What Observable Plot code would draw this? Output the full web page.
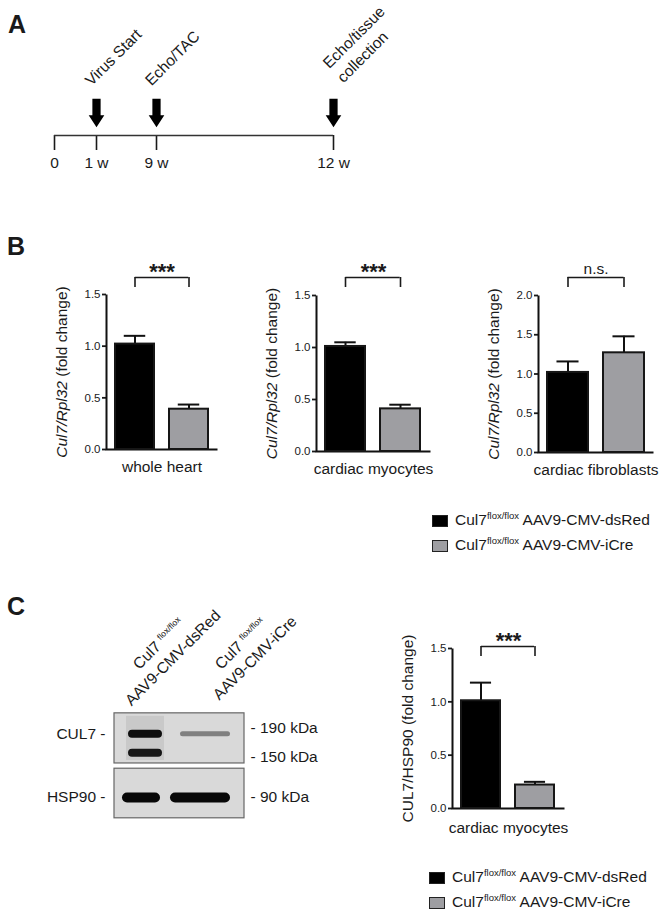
<!DOCTYPE html>
<html><head><meta charset="utf-8">
<script src="https://cdn.jsdelivr.net/npm/d3@7"></script>
<script src="https://cdn.jsdelivr.net/npm/@observablehq/plot@0.6"></script>
<style>
body{margin:0;background:#fff;}
#fig{position:relative;width:666px;height:912px;background:#fff;font-family:"Liberation Sans",Arial,Helvetica,sans-serif;color:#1a1a1a;overflow:hidden}
.letter{position:absolute;font-weight:bold;font-size:25px;line-height:1}
.legend{position:absolute;font-size:15.5px;line-height:25px;white-space:nowrap}
.legend .row{display:flex;align-items:center;height:25px}
.legend .sw{width:14px;height:10px;margin-right:7px;border:1px solid #222}
.legend sup{font-size:9.5px;vertical-align:0;position:relative;top:-6px}
</style></head><body><div id="fig"></div>
<script>
// ---------------- data ----------------
const groupKeys = ["dsRed", "iCre"];
const groupGene = "Cul7";
const groupAllele = "flox/flox";
const groupVectors = ["AAV9-CMV-dsRed", "AAV9-CMV-iCre"];
const groupColors = ["#000000", "#9e9ea2"];

const timelineWeeks = [0, 1, 9, 12];
const timelineLabels = ["0", "1 w", "9 w", "12 w"];
const timelineEvents = [
  {week: 1, label: "Virus Start"},
  {week: 9, label: "Echo/TAC"},
  {week: 12, label: "Echo/tissue\ncollection"}
];

const wholeHeartMean = [1.02, 0.39];
const wholeHeartSem = [0.08, 0.045];
const myocyteMean = [1.01, 0.41];
const myocyteSem = [0.04, 0.04];
const fibroblastMean = [1.02, 1.27];
const fibroblastSem = [0.14, 0.21];
const westernMean = [1.01, 0.22];
const westernSem = [0.17, 0.03];

const ticks15 = [0, 0.5, 1.0, 1.5];
const ticks20 = [0, 0.5, 1.0, 1.5, 2.0];

const blotLanes = ["dsRed", "iCre"];
const blotMarkers = [190, 150, 90];
const blotStrips = [
  {protein: "CUL7", topKDa: 215, bottomKDa: 139},
  {protein: "HSP90", topKDa: 130, bottomKDa: 69}
];
const blotBands = [
  {protein: "CUL7", lane: "dsRed", kDa: 182, darkness: 0.97},
  {protein: "CUL7", lane: "dsRed", kDa: 156, darkness: 0.93},
  {protein: "CUL7", lane: "iCre", kDa: 182, darkness: 0.42},
  {protein: "HSP90", lane: "dsRed", kDa: 90, darkness: 1.0},
  {protein: "HSP90", lane: "iCre", kDa: 90, darkness: 1.0}
];
const proteinLabels = [{protein: "CUL7", kDa: 182}, {protein: "HSP90", kDa: 90}];

// ---------------- helpers ----------------
const FONT = '"Liberation Sans", Arial, Helvetica, sans-serif';
const INK = "#1a1a1a";
const fig = document.getElementById("fig");
function place(node, left, top) {
  node.style.position = "absolute";
  node.style.left = left + "px";
  node.style.top = top + "px";
  fig.appendChild(node);
  return node;
}
function baseStyle(size) {
  return {fontFamily: FONT, fontSize: size, color: INK, background: "none", overflow: "visible"};
}
function rich(svg, match, build) {
  svg.querySelectorAll("text, tspan").forEach(el => {
    if (el.children.length === 0 && el.textContent === match) {
      el.textContent = "";
      build(el);
    }
  });
}
const NS = "http://www.w3.org/2000/svg";
function tspan(parent, text, attrs = {}) {
  const t = document.createElementNS(NS, "tspan");
  for (const k in attrs) t.setAttribute(k, attrs[k]);
  t.textContent = text;
  parent.appendChild(t);
  return t;
}
function thickenAxis(svg, w) {
  svg.querySelectorAll('[aria-label*="axis"] path, [aria-label*="axis"] line').forEach(e => e.setAttribute("stroke-width", w));
}

// ---------------- panel letters ----------------
[["A", 8, 12], ["B", 7, 234], ["C", 7, 594]].forEach(([t, l, tp]) => {
  const d = document.createElement("div");
  d.className = "letter";
  d.textContent = t;
  place(d, l, tp);
});

// ---------------- panel A: timeline ----------------
const downArrow = {
  draw(ctx, size) {
    const r = Math.sqrt(size / Math.PI);
    const sw = 0.29 * r, hw = 0.55 * r, hb = 0.16 * r;
    ctx.moveTo(-sw, -r);
    ctx.lineTo(sw, -r);
    ctx.lineTo(sw, hb);
    ctx.lineTo(hw, hb);
    ctx.lineTo(0, r);
    ctx.lineTo(-hw, hb);
    ctx.lineTo(-sw, hb);
    ctx.closePath();
  }
};
const single = timelineEvents.filter(d => !d.label.includes("\n"));
const multi = timelineEvents.filter(d => d.label.includes("\n"));
const timeline = Plot.plot({
  width: 420, height: 180,
  marginTop: 45, marginBottom: 45, marginLeft: 40, marginRight: 40,
  style: baseStyle("15.5px"),
  x: {type: "linear", domain: timelineWeeks, range: [54, 96, 156, 333], ticks: timelineWeeks,
      tickFormat: d => timelineLabels[timelineWeeks.indexOf(d)], tickSize: 15, tickPadding: 6, label: null},
  y: {domain: [0, 1], axis: null},
  marks: [
    Plot.ruleY([0], {x1: () => timelineWeeks[0], x2: () => timelineWeeks[timelineWeeks.length - 1], stroke: "#333", strokeWidth: 1.6}),
    Plot.dot(timelineEvents, {x: "week", y: () => 0, r: 14.2, symbol: downArrow, fill: "#000", dy: -22.5}),
    Plot.text(single, {x: "week", y: () => 0, text: "label", rotate: -45, textAnchor: "start", lineAnchor: "bottom", dx: -5, dy: -49, fontSize: 15.5, fill: INK}),
    Plot.text(multi, {x: "week", y: () => 0, text: "label", rotate: -45, textAnchor: "start", lineAnchor: "bottom", lineHeight: 1.3, dx: 10, dy: -52, fontSize: 15.5, fill: INK})
  ]
});
thickenAxis(timeline, 1.6);
place(timeline, 0, 0);

// ---------------- bar charts ----------------
function barChart(c) {
  const rows = groupKeys.map((g, i) => ({group: g, mean: c.mean[i], sem: c.sem[i], color: groupColors[i]}));
  const pi = 0.27, po = 0.16;
  const R = c.width - c.ml - c.mr;
  const H = c.height - c.mt - c.mb;
  const bw = R / (2 - pi + 2 * po) * (1 - pi);
  const cap = (bw - 22) / 2;
  const yTop = c.yDomain[1];
  const isStars = c.sig.startsWith("*");
  const svg = Plot.plot({
    width: c.width, height: c.height,
    marginLeft: c.ml, marginRight: c.mr, marginTop: c.mt, marginBottom: c.mb,
    style: baseStyle("11.5px"),
    x: {type: "band", domain: groupKeys, paddingInner: pi, paddingOuter: po, axis: null},
    y: {domain: c.yDomain, ticks: c.yTicks, tickFormat: d3.format(".1f"), tickSize: 4, tickPadding: 2, label: null},
    color: {type: "identity"},
    marks: [
      Plot.frame({stroke: "#111", strokeWidth: 2, strokeDasharray: `0,${R + H},${R + H}`}),
      Plot.ruleX(rows, {x: "group", y1: "mean", y2: d => d.mean + d.sem, stroke: "#111", strokeWidth: 2}),
      Plot.tickY(rows, {x: "group", y: d => d.mean + d.sem, stroke: "#111", strokeWidth: 2, insetLeft: cap, insetRight: cap}),
      Plot.barY(rows, {x: "group", y: "mean", fill: "color", stroke: "#161616", strokeWidth: 2}),
      Plot.ruleY([yTop], {x1: () => groupKeys[0], x2: () => groupKeys[1], dy: -c.rise, insetLeft: bw / 2, insetRight: bw / 2, stroke: INK, strokeWidth: 1.6}),
      Plot.ruleX(groupKeys, {x: d => d, y1: () => yTop, y2: () => yTop, dy: 10 - c.rise, insetTop: 0, insetBottom: 10, stroke: INK, strokeWidth: 1.6}),
      Plot.text([c.sig], {text: d => d, frameAnchor: "top", textAnchor: "middle", lineAnchor: "bottom",
        dy: isStars ? 1 - c.rise : -4 - c.rise, fontSize: isStars ? 22 : 15.5, fontWeight: isStars ? "bold" : "normal", fill: INK}),
      Plot.text([c.yLabel], {text: d => d, frameAnchor: "left", textAnchor: "middle", lineAnchor: "middle", rotate: -90, dx: -44, fontSize: 15.5, fill: INK}),
      Plot.text([c.xLabel], {text: d => d, frameAnchor: "bottom", textAnchor: "middle", lineAnchor: "middle", dy: c.xlDy, fontSize: 15.5, fill: INK})
    ]
  });
  thickenAxis(svg, 1.8);
  rich(svg, "Cul7/Rpl32 (fold change)", el => {
    tspan(el, "Cul7/Rpl32", {"font-style": "italic"});
    tspan(el, " (fold change)");
  });
  place(svg, c.left, c.top);
}

barChart({left: 0, top: 250, width: 225, height: 240, ml: 106, mr: 8, mt: 44, mb: 41,
  mean: wholeHeartMean, sem: wholeHeartSem, yDomain: [0, 1.5], yTicks: ticks15,
  sig: "***", rise: 17, yLabel: "Cul7/Rpl32 (fold change)", xLabel: "whole heart", xlDy: 18});
barChart({left: 222, top: 250, width: 220, height: 240, ml: 94, mr: 12, mt: 45, mb: 39,
  mean: myocyteMean, sem: myocyteSem, yDomain: [0, 1.5], yTicks: ticks15,
  sig: "***", rise: 18, yLabel: "Cul7/Rpl32 (fold change)", xLabel: "cardiac myocytes", xlDy: 18});
barChart({left: 444, top: 250, width: 222, height: 240, ml: 94, mr: 13, mt: 45, mb: 38,
  mean: fibroblastMean, sem: fibroblastSem, yDomain: [0, 2.0], yTicks: ticks20,
  sig: "n.s.", rise: 18, yLabel: "Cul7/Rpl32 (fold change)", xLabel: "cardiac fibroblasts", xlDy: 18});
barChart({left: 350, top: 600, width: 240, height: 240, ml: 102, mr: 26, mt: 48, mb: 32,
  mean: westernMean, sem: westernSem, yDomain: [0, 1.5], yTicks: ticks15,
  sig: "***", rise: 2, yLabel: "CUL7/HSP90 (fold change)", xLabel: "cardiac myocytes", xlDy: 20});

// ---------------- legends ----------------
function legend(left, top) {
  const div = document.createElement("div");
  div.className = "legend";
  groupKeys.forEach((g, i) => {
    const row = document.createElement("div");
    row.className = "row";
    const sw = document.createElement("span");
    sw.className = "sw";
    sw.style.background = groupColors[i];
    row.appendChild(sw);
    const lab = document.createElement("span");
    lab.innerHTML = `${groupGene}<sup>${groupAllele}</sup> ${groupVectors[i]}`;
    row.appendChild(lab);
    div.appendChild(row);
  });
  place(div, left, top);
}
legend(432, 508);
legend(429, 865);

// ---------------- western blot ----------------
const shade = d3.interpolateRgb("#d7d7d7", "#080808");
const bandStyles = [
  {protein: "CUL7", lane: "dsRed", strokeWidth: 8, insetLeft: 18, insetRight: 16},
  {protein: "CUL7", lane: "iCre", strokeWidth: 5, insetLeft: 8.5, insetRight: 6.5},
  {protein: "HSP90", lane: "dsRed", strokeWidth: 10, insetLeft: 13, insetRight: 19},
  {protein: "HSP90", lane: "iCre", strokeWidth: 10, insetLeft: 1, insetRight: 9}
];
const laneLabelDx = {dsRed: 32, iCre: 54};
const blot = Plot.plot({
  width: 340, height: 240,
  marginLeft: 114, marginRight: 96, marginTop: 123, marginBottom: 12,
  style: baseStyle("15.5px"),
  x: {type: "band", domain: blotLanes, paddingInner: 0, paddingOuter: 0.083, align: 0, axis: null},
  y: {type: "log", domain: blotMarkers, range: [138, 167, 207], axis: null},
  color: {type: "identity"},
  marks: [
    Plot.rect(blotStrips, {y1: "topKDa", y2: "bottomKDa", fill: "#d9d9d9", stroke: "#666", strokeWidth: 1.2}),
    Plot.barY(blotStrips.filter(d => d.protein === "CUL7"), {x: () => blotLanes[0], y1: "topKDa", y2: "bottomKDa",
      insetLeft: 12, insetRight: 10, insetTop: 3, insetBottom: 3, fill: "#000", fillOpacity: 0.07, ariaLabel: "blot haze"}),
    ...bandStyles.map(s => Plot.tickY(blotBands.filter(b => b.protein === s.protein && b.lane === s.lane), {
      x: "lane", y: "kDa", stroke: d => shade(d.darkness), strokeWidth: s.strokeWidth, strokeLinecap: "round",
      insetLeft: s.insetLeft, insetRight: s.insetRight, ariaLabel: "blot band"})),
    Plot.text(proteinLabels, {y: "kDa", text: d => d.protein + " -", frameAnchor: "left", textAnchor: "end", dx: -9, fill: INK}),
    Plot.text(blotMarkers, {y: d => d, text: d => `- ${d} kDa`, frameAnchor: "right", textAnchor: "start", dx: 6, fill: INK}),
    ...blotLanes.map((lane, i) => Plot.text([lane], {x: d => d, text: () => `${groupGene} ${groupAllele}\n${groupVectors[i]}`,
      frameAnchor: "top", rotate: -45, textAnchor: "middle", lineAnchor: "bottom", lineHeight: 1.3,
      dx: laneLabelDx[lane], dy: -52, fill: INK}))
  ]
});
// soften the bands like a scanned film
const defs = document.createElementNS(NS, "defs");
defs.innerHTML = '<filter id="bandBlur" x="-20%" y="-50%" width="140%" height="200%"><feGaussianBlur stdDeviation="1.1"/></filter>' +
  '<filter id="hazeBlur" x="-50%" y="-50%" width="200%" height="200%"><feGaussianBlur stdDeviation="4"/></filter>';
blot.insertBefore(defs, blot.firstChild);
blot.querySelectorAll('g[aria-label="blot band"]').forEach(g => g.setAttribute("filter", "url(#bandBlur)"));
blot.querySelectorAll('g[aria-label="blot haze"]').forEach(g => g.setAttribute("filter", "url(#hazeBlur)"));
rich(blot, `${groupGene} ${groupAllele}`, el => {
  el.appendChild(document.createTextNode(groupGene + " "));
  tspan(el, groupAllele, {"font-size": "8.5px", "baseline-shift": "6"});
});
place(blot, 0, 590);
</script></body></html>
